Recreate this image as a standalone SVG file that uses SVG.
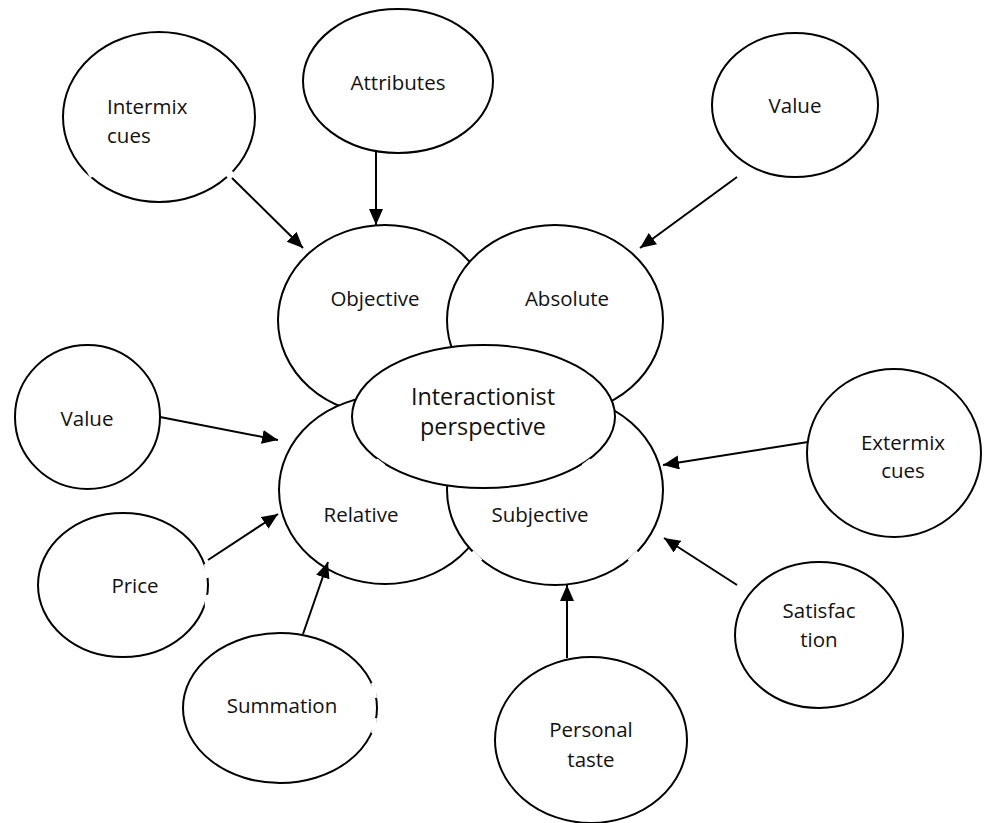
<svg xmlns="http://www.w3.org/2000/svg" width="991" height="823" viewBox="0 0 991 823">
  <defs>
    <style>
      .node ellipse { fill: #ffffff; stroke: #000000; stroke-width: 2; }
      .node text { font-family: "Open Sans", "Liberation Sans", sans-serif; font-size: 20.5px; fill: #111111; }
      .mid { text-anchor: middle; }
      .big { font-size: 23.4px !important; }
      .edges line { stroke: #000000; stroke-width: 2; marker-end: url(#head); }
      .breaks line { stroke: #ffffff; stroke-width: 4; }
    </style>
    <marker id="head" markerUnits="userSpaceOnUse" markerWidth="17" markerHeight="15" refX="16" refY="7" orient="auto">
      <path d="M0,0 L16,7 L0,14 z" fill="#000000"/>
    </marker>
  </defs>
  <rect width="991" height="823" fill="#ffffff"/>

  <!-- outer cue nodes -->
  <g id="node-intermix" class="node">
    <ellipse cx="159" cy="117" rx="96" ry="85"/>
    <text x="107" y="114">Intermix</text>
    <text x="107" y="143">cues</text>
  </g>
  <g id="node-attributes" class="node">
    <ellipse cx="398" cy="81" rx="95" ry="72"/>
    <text class="mid" x="398" y="90">Attributes</text>
  </g>
  <g id="node-value-top" class="node">
    <ellipse cx="795" cy="105" rx="83" ry="72"/>
    <text class="mid" x="795" y="113">Value</text>
  </g>
  <g id="node-value-left" class="node">
    <ellipse cx="87.5" cy="417" rx="72.5" ry="72"/>
    <text class="mid" x="87" y="426">Value</text>
  </g>
  <g id="node-price" class="node">
    <ellipse cx="123" cy="585" rx="85" ry="72"/>
    <text class="mid" x="135" y="593">Price</text>
  </g>
  <g id="node-summation" class="node">
    <ellipse cx="280" cy="708" rx="97" ry="75"/>
    <text class="mid" x="282" y="713">Summation</text>
  </g>
  <g id="node-extermix" class="node">
    <ellipse cx="894" cy="453" rx="87" ry="84"/>
    <text class="mid" x="903" y="450">Extermix</text>
    <text class="mid" x="903" y="478">cues</text>
  </g>
  <g id="node-satisfaction" class="node">
    <ellipse cx="819" cy="635" rx="84" ry="73"/>
    <text class="mid" x="819" y="618">Satisfac</text>
    <text class="mid" x="819" y="647">tion</text>
  </g>
  <g id="node-personal-taste" class="node">
    <ellipse cx="591" cy="740" rx="96" ry="83"/>
    <text class="mid" x="591" y="737">Personal</text>
    <text class="mid" x="591" y="767">taste</text>
  </g>

  <!-- overlapping core cluster, back to front -->
  <g id="node-objective" class="node">
    <ellipse cx="385" cy="320" rx="107" ry="95"/>
    <text class="mid" x="375" y="306">Objective</text>
  </g>
  <g id="node-absolute" class="node">
    <ellipse cx="555" cy="320" rx="108" ry="95"/>
    <text class="mid" x="567" y="306">Absolute</text>
  </g>
  <g id="node-relative" class="node">
    <ellipse cx="385" cy="490" rx="106" ry="94"/>
    <text class="mid" x="361" y="522">Relative</text>
  </g>
  <g id="node-subjective" class="node">
    <ellipse cx="555" cy="490" rx="108" ry="95"/>
    <text class="mid" x="540" y="522">Subjective</text>
  </g>
  <g id="node-interactionist" class="node">
    <ellipse cx="483.5" cy="416.5" rx="131.5" ry="71.5"/>
    <text class="mid big" x="483" y="405">Interactionist</text>
    <text class="mid big" x="483" y="435">perspective</text>
  </g>

  <!-- small breaks in the outlines -->
  <g class="breaks">
    <line x1="87" y1="168" x2="92" y2="177"/>
    <line x1="227" y1="177" x2="233" y2="172"/>
    <line x1="206" y1="564" x2="207" y2="578"/>
    <line x1="206" y1="595" x2="207" y2="608"/>
    <line x1="373" y1="683" x2="375" y2="698"/>
    <line x1="373" y1="733" x2="375" y2="718"/>
    <line x1="376" y1="368" x2="384" y2="363"/>
    <line x1="583" y1="364" x2="591" y2="372"/>
    <line x1="376" y1="460" x2="384" y2="466"/>
    <line x1="583" y1="466" x2="591" y2="460"/>
    <line x1="472" y1="552" x2="481" y2="561"/>
    <line x1="629" y1="561" x2="638" y2="552"/>
  </g>

  <!-- connectors -->
  <g id="edges" class="edges">
    <line x1="232" y1="178" x2="303" y2="248"/>
    <line x1="376" y1="152" x2="376" y2="225"/>
    <line x1="737" y1="177" x2="640" y2="248"/>
    <line x1="160" y1="417" x2="278" y2="440"/>
    <line x1="208" y1="560" x2="278" y2="514"/>
    <line x1="303" y1="634" x2="328" y2="562"/>
    <line x1="808" y1="442" x2="663" y2="465"/>
    <line x1="737" y1="585" x2="664" y2="538"/>
    <line x1="567" y1="658" x2="567" y2="585"/>
  </g>
</svg>
